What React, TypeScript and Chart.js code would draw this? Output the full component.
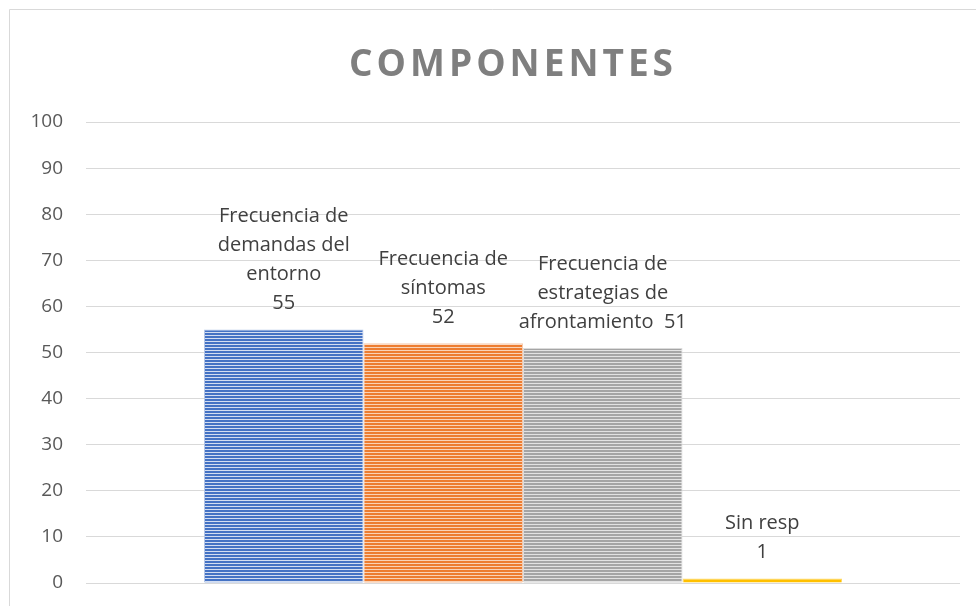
import React, { useEffect, useRef } from "react";
import { Chart, registerables } from "chart.js";

Chart.register(...registerables);

const chartTitle = "COMPONENTES";
const categories = ["Componentes"];
const seriesNames = [
  "Frecuencia de demandas del entorno",
  "Frecuencia de síntomas",
  "Frecuencia de estrategias de afrontamiento",
  "Sin resp",
];
const seriesLabelLines = [
  ["Frecuencia de", "demandas del", "entorno"],
  ["Frecuencia de", "síntomas"],
  ["Frecuencia de", "estrategias de", "afrontamiento"],
  ["Sin resp"],
];
const valueOnSameLine = [false, false, true, false];
const values = [55, 52, 51, 1];
const seriesColors = ["#4472C4", "#ED7D31", "#A5A5A5", "#FFC000"];
const stripeLight = ["#d3ddf1", "#f9d3b8", "#e2e2e2", "#FFC000"];
const seriesBorders = ["#b4c6e7", "#f8cbad", "#dbdbdb", "#ffd966"];
const yMin = 0;
const yMax = 100;
const yStep = 10;

function makeStripe(color: string, light: string): CanvasPattern | string {
  const c = document.createElement("canvas");
  c.width = 4;
  c.height = 3;
  const g = c.getContext("2d");
  if (!g) return color;
  g.fillStyle = color;
  g.fillRect(0, 0, 4, 2);
  g.fillStyle = light;
  g.fillRect(0, 2, 4, 1);
  const p = g.createPattern(c, "repeat");
  return p || color;
}

const frameAndTitle = {
  id: "frameAndTitle",
  beforeDraw(chart: any) {
    const ctx = chart.ctx;
    ctx.save();
    ctx.fillStyle = "#ffffff";
    ctx.fillRect(0, 0, chart.width, chart.height);
    ctx.strokeStyle = "#d9d9d9";
    ctx.lineWidth = 1;
    ctx.beginPath();
    ctx.moveTo(9.5, chart.height);
    ctx.lineTo(9.5, 9.5);
    ctx.lineTo(chart.width, 9.5);
    ctx.stroke();
    ctx.restore();
  },
  afterDraw(chart: any) {
    const ctx = chart.ctx;
    ctx.save();
    ctx.font = "bold 37px 'Open Sans'";
    ctx.fillStyle = "#7f7f7f";
    ctx.textAlign = "left";
    ctx.textBaseline = "middle";
    const spacing = 4;
    (ctx as any).letterSpacing = spacing + "px";
    const w = ctx.measureText(chartTitle).width - spacing;
    ctx.fillText(chartTitle, 511 - w / 2, 65);
    ctx.restore();
  },
};

const barLabels = {
  id: "barLabels",
  afterDatasetsDraw(chart: any) {
    const ctx = chart.ctx;
    ctx.save();
    ctx.font = "20px 'Open Sans'";
    ctx.fillStyle = "#404040";
    ctx.textAlign = "center";
    ctx.textBaseline = "middle";
    chart.data.datasets.forEach((_ds: any, i: number) => {
      const el = chart.getDatasetMeta(i).data[0];
      if (!el) return;
      const lines = [...seriesLabelLines[i]];
      const v = String(values[i]);
      if (valueOnSameLine[i]) lines[lines.length - 1] += "  " + v;
      else lines.push(v);
      const lastY = el.y - 26;
      lines.forEach((ln, k) => {
        ctx.fillText(ln, el.x, lastY - (lines.length - 1 - k) * 29);
      });
    });
    ctx.restore();
  },
};

export default function App() {
  const ref = useRef<HTMLCanvasElement | null>(null);
  useEffect(() => {
    if (!ref.current) return;
    const chart = new Chart(ref.current, {
      type: "bar",
      data: {
        labels: categories,
        datasets: seriesNames.map((name, i) => ({
          label: name,
          data: [values[i]],
          backgroundColor: makeStripe(seriesColors[i], stripeLight[i]),
          borderColor: seriesBorders[i],
          borderWidth: 1,
          categoryPercentage: 0.73,
          barPercentage: 1,
        })),
      },
      options: {
        responsive: false,
        animation: false,
        layout: { padding: { top: 122, right: 16, bottom: 23, left: 0 } },
        plugins: {
          legend: { display: false },
          tooltip: { enabled: false },
          title: { display: false },
        },
        scales: {
          x: { display: false },
          y: {
            min: yMin,
            max: yMax,
            ticks: {
              stepSize: yStep,
              padding: 23,
              color: "#595959",
              font: { family: "'Open Sans'", size: 19 },
            },
            grid: { color: "#d9d9d9", lineWidth: 1, drawTicks: false },
            border: { display: false },
            afterFit: (s: any) => {
              s.width = 86;
              s.paddingTop = 0;
              s.paddingBottom = 0;
            },
          },
        },
      },
      plugins: [frameAndTitle, barLabels],
    });
    return () => chart.destroy();
  }, []);
  return (
    <div style={{ position: "fixed", left: 0, top: 0, width: 976, height: 606, background: "#fff" }}>
      <canvas ref={ref} width={976} height={606} style={{ display: "block" }} />
    </div>
  );
}
